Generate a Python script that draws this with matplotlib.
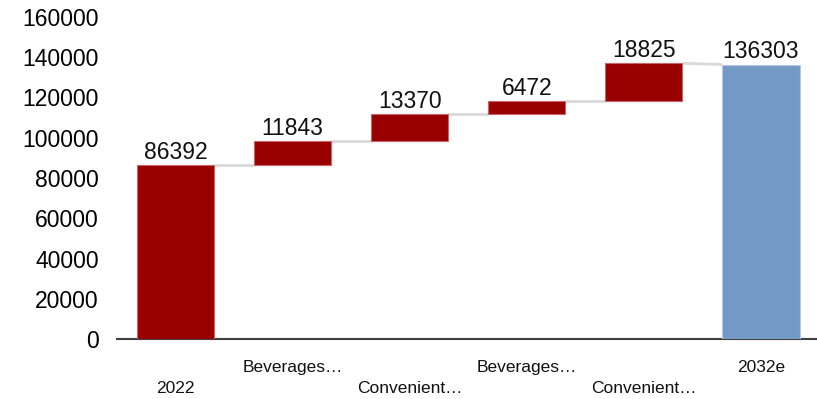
import numpy as np
import matplotlib.pyplot as plt

plt.rcParams["font.family"] = ["Liberation Sans", "DejaVu Sans"]

# waterfall steps: start value, increments, end value
categories = ["2022", "Beverages…", "Convenient…", "Beverages…", "Convenient…", "2032e"]
start_value = 86392
increments = [11843, 13370, 6472, 18825]
end_value = 136303

red = "#990000"
blue = "#7399c6"
width = 0.66

fig = plt.figure(figsize=(8.17, 3.99), dpi=100)
ax = fig.add_axes([0.143, 0.150, 0.860, 0.808])

# bottoms / heights of each bar
cum = np.cumsum([start_value] + increments)
bottoms = [0] + list(cum[:-1]) + [0]
heights = [start_value] + increments + [end_value]
tops = [b + h for b, h in zip(bottoms, heights)]
cols = [red] * (len(heights) - 1) + [blue]
x = np.arange(len(categories))

ax.bar(x, heights, width=width, bottom=bottoms, color=cols,
       edgecolor=["#c86666"] * (len(heights) - 1) + ["#b3c8e2"], linewidth=0.8, zorder=3)

# connectors between consecutive bars
for i in range(len(x) - 1):
    y0 = tops[i]
    y1 = bottoms[i + 1] if i + 1 < len(x) - 1 else tops[i + 1]
    ax.plot([x[i] + width / 2, x[i + 1] - width / 2], [y0, y1],
            color="#d9d9d9", lw=2, zorder=2, solid_capstyle="butt")

# value labels on top of every bar
for xi, top, h in zip(x, tops, heights):
    ax.annotate(f"{h}", (xi, top), xytext=(0, 1), textcoords="offset points",
                ha="center", va="bottom", fontsize=16.5, color="#111111")

ax.set_xlim(-0.5, len(x) - 0.5)
ax.set_ylim(0, 160000)
ax.set_yticks(np.arange(0, 160001, 20000))
ax.tick_params(axis="y", length=0, labelsize=16.5, pad=13)
ax.set_xticks([])

# staggered category labels under the axis
xt = ax.get_xaxis_transform()
for i, c in enumerate(categories):
    ypos = -0.152 if i % 2 == 0 else -0.087
    if c == "2032e":
        ypos = -0.087
    ax.text(x[i], ypos, c, transform=xt, ha="center", va="center", fontsize=12.5,
            color="#111111")

for s in ["top", "right", "left"]:
    ax.spines[s].set_visible(False)
ax.spines["bottom"].set_color("#404040")
ax.spines["bottom"].set_linewidth(1.5)

fig.savefig("out.png", dpi=100)
